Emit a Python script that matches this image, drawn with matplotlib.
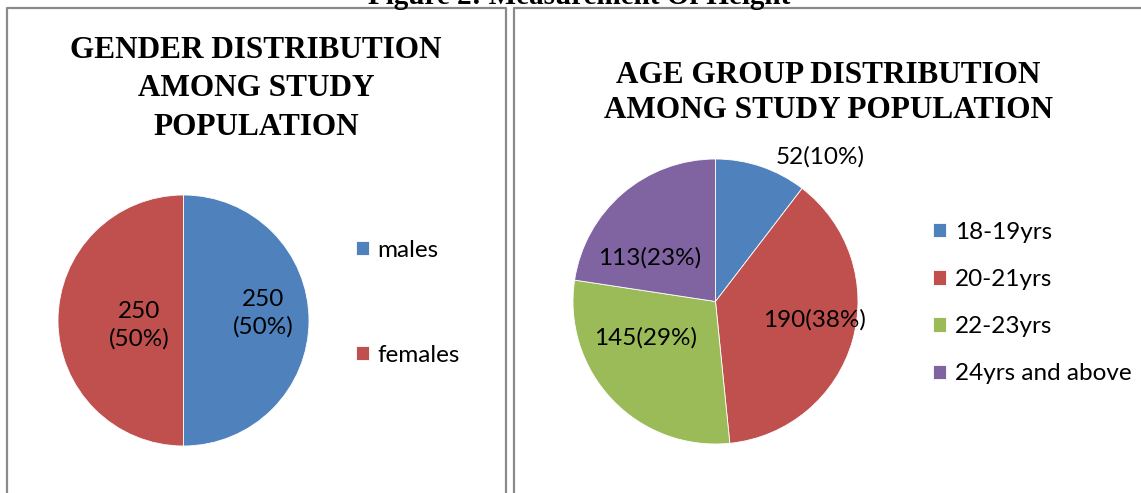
import matplotlib.pyplot as plt
from matplotlib.lines import Line2D

W, H = 1141, 493

# data
gender_labels = ["males", "females"]
gender_counts = [250, 250]
gender_pct = [50, 50]

age_labels = ["18-19yrs", "20-21yrs", "22-23yrs", "24yrs and above"]
age_counts = [52, 190, 145, 113]
age_pct = [10, 38, 29, 23]

colors4 = ["#4F81BD", "#C0504D", "#9BBB59", "#8064A2"]

label_font = "Lato"
title_font = "Liberation Serif"


def px_axes(fig, cx, cy, r):
	# axes square of radius r (pixels) around pixel centre (cx, cy), y from top
	ax = fig.add_axes([(cx - r) / W, (H - cy - r) / H, 2 * r / W, 2 * r / H])
	return ax


def fig_line(fig, xs, ys):
	fig.add_artist(Line2D([x / W for x in xs], [1 - y / H for y in ys],
		transform=fig.transFigure, color="#8a8a8a", lw=1.6, solid_capstyle="butt"))


fig = plt.figure(figsize=(W / 100, H / 100), dpi=100)

# panel borders
fig_line(fig, [7, 7, 506, 506], [H, 8, 8, H])
fig_line(fig, [514, 514, W], [H, 8, 8])

# figure caption, cut off at the top like in the source page
fig.text(579 / W, 1 - 4 / H, "Figure 2: Measurement Of Height", ha="center", va="baseline",
	family=title_font, weight="bold", fontsize=21)

# ---- left: gender
fig.text(256 / W, 1 - 89 / H, "GENDER DISTRIBUTION\nAMONG STUDY\nPOPULATION", ha="center", va="center",
	family=title_font, weight="bold", fontsize=22.5, linespacing=1.42)

ax1 = px_axes(fig, 183.5, 320.5, 125.5)
wedges1, _ = ax1.pie(gender_counts, colors=colors4[:2], startangle=90, counterclock=False, radius=1,
	wedgeprops=dict(linewidth=0.6, edgecolor="white"), frame=True)
ax1.axis("off")
ax1.set_xlim(-1, 1)
ax1.set_ylim(-1, 1)
g_pos = [(0.633, 0.06), (-0.355, -0.036)]
for (x, y), n, p in zip(g_pos, gender_counts, gender_pct):
	ax1.text(x, y, f"{n}\n({p}%)", ha="center", va="center", family=label_font, fontsize=17.5, linespacing=1.35)

fig.legend(wedges1, gender_labels, loc="upper left", bbox_to_anchor=(346 / W, 1 - 230 / H),
	frameon=False, prop=dict(family=label_font, size=17.5), handlelength=0.55, handleheight=0.55,
	handletextpad=0.35, labelspacing=3.45, borderaxespad=0)

# ---- right: age group
fig.text(828 / W, 1 - 93 / H, "AGE GROUP DISTRIBUTION\nAMONG STUDY POPULATION", ha="center", va="center",
	family=title_font, weight="bold", fontsize=22.5, linespacing=1.3)

ax2 = px_axes(fig, 715.5, 301.5, 142.5)
wedges2, _ = ax2.pie(age_counts, colors=colors4, startangle=90, counterclock=False, radius=1,
	wedgeprops=dict(linewidth=0.6, edgecolor="white"), frame=True)
ax2.axis("off")
ax2.set_xlim(-1, 1)
ax2.set_ylim(-1, 1)
a_pos = [(0.733, 1.014), (0.698, -0.13), (-0.488, -0.256), (-0.46, 0.305)]
for (x, y), n, p in zip(a_pos, age_counts, age_pct):
	ax2.text(x, y, f"{n}({p}%)", ha="center", va="center", family=label_font, fontsize=17.5)

fig.legend(wedges2, age_labels, loc="upper left", bbox_to_anchor=(923 / W, 1 - 212 / H),
	frameon=False, prop=dict(family=label_font, size=17.5), handlelength=0.55, handleheight=0.55,
	handletextpad=0.35, labelspacing=1.08, borderaxespad=0)

fig.savefig("out.png", dpi=100)
